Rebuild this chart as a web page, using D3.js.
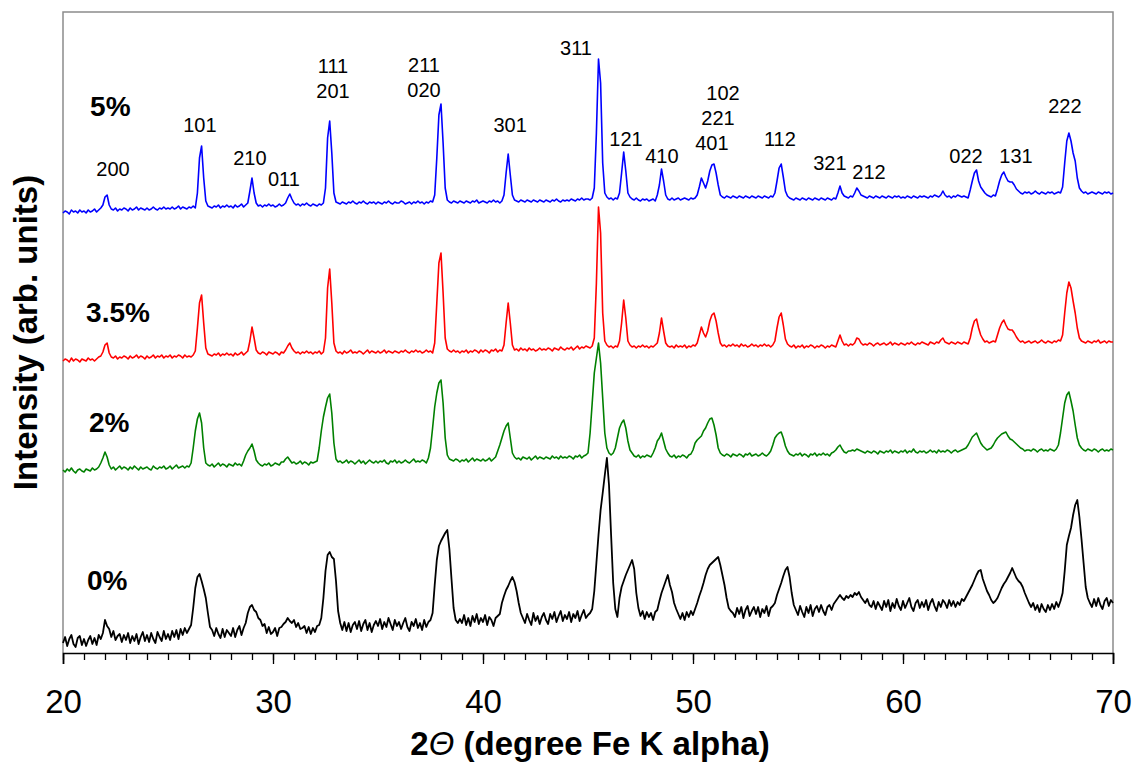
<!DOCTYPE html>
<html>
<head>
<meta charset="utf-8">
<script src="https://cdn.jsdelivr.net/npm/d3@7"></script>
<style>
  html, body { margin: 0; padding: 0; background: #fff; }
  svg { display: block; font-family: "Liberation Sans", Arial, Helvetica, sans-serif; }
</style>
</head>
<body>
<svg id="chart" width="1137" height="766"></svg>
<script>
// Measurement grid: 2-theta from 20 to 70 degrees in 0.1 degree steps
const twoTheta = d3.range(501).map(i => +(20 + i * 0.1).toFixed(1));

// Diffracted intensity (arb. units), one row per degree
const intensity0 = [
  10,16,7,14,18,9,6,15,17,8,
  14,7,13,17,9,15,8,18,14,20,
  33,27,24,16,22,13,17,19,11,18,
  13,20,10,17,12,19,9,16,21,12,
  18,11,20,14,10,21,16,12,22,14,
  19,13,22,16,23,14,24,18,25,20,
  24,28,45,65,76,79,72,64,55,40,
  26,23,17,25,19,15,24,16,23,20,
  17,25,16,23,27,18,25,30,40,46,
  48,43,41,35,33,27,29,20,26,19,
  21,25,17,25,26,29,31,35,32,30,
  33,26,30,24,25,27,20,26,19,25,
  21,27,28,35,55,82,98,101,96,94,
  72,42,30,23,31,22,30,21,28,31,
  24,32,22,29,33,23,30,21,28,32,
  27,34,24,31,26,35,29,23,33,27,
  31,24,30,35,26,22,31,27,34,25,
  30,23,33,26,31,33,40,68,93,107,
  112,116,120,123,104,74,45,33,30,34,
  30,38,28,35,27,37,31,39,29,35,
  31,38,28,36,33,27,35,37,39,50,
  57,63,67,72,76,71,62,50,40,35,
  30,39,33,28,40,32,37,29,36,40,
  33,29,39,34,41,31,37,42,32,38,
  34,41,31,39,35,42,32,38,43,35,
  38,40,44,62,90,118,143,160,178,195,
  168,118,70,44,36,55,66,72,78,83,
  88,93,84,60,45,37,42,34,41,36,
  40,33,41,43,52,60,66,72,78,68,
  61,50,44,39,34,40,33,41,36,42,
  38,44,50,57,63,70,78,84,88,90,
  92,94,96,88,78,68,55,45,42,40,
  36,45,39,46,35,43,47,37,42,46,
  39,46,36,44,40,47,37,45,47,50,
  58,64,70,77,83,86,76,60,48,43,
  38,47,41,36,46,40,48,37,44,47,
  41,48,42,38,46,48,43,49,52,55,
  58,55,53,57,55,58,56,60,58,61,
  56,53,50,54,48,46,52,44,51,47,
  43,52,46,53,42,50,45,54,47,43,
  52,45,50,55,46,42,50,53,45,51,
  46,53,43,50,54,47,42,51,46,53,
  50,45,53,47,52,46,51,48,54,52,
  56,60,64,68,73,78,82,83,74,68,
  62,58,53,50,52,55,60,65,69,72,
  76,80,85,80,75,72,70,66,60,55,
  50,46,50,43,48,41,49,44,41,48,
  43,49,44,51,46,52,60,82,108,117,
  125,138,148,153,136,114,90,66,55,50,
  46,54,47,55,48,44,52,55,47,53,
  50
];

const intensity2 = [
  23,21,24,22,25,22,20,23,24,22,
  21,24,23,22,25,23,24,26,30,35,
  41,36,28,24,26,23,25,27,24,26,
  25,23,26,24,27,25,23,26,24,25,
  26,24,23,27,25,24,26,25,27,24,
  25,27,24,26,28,25,26,27,25,27,
  26,30,45,62,74,80,70,45,30,28,
  27,29,26,28,30,27,29,28,26,29,
  28,27,30,28,29,27,32,38,42,45,
  49,42,33,30,28,27,29,28,30,27,
  28,30,29,28,31,31,34,36,33,30,
  31,29,30,32,29,31,30,28,31,30,
  31,32,45,62,76,86,95,99,80,50,
  34,31,32,30,31,33,30,32,31,29,
  31,33,30,32,29,31,33,31,30,32,
  30,32,31,33,30,29,32,31,33,30,
  32,30,31,33,31,30,32,34,31,32,
  31,33,32,30,35,45,65,86,100,110,
  113,90,55,38,34,33,32,34,33,31,
  33,32,34,31,33,35,32,34,33,32,
  34,32,33,35,32,34,36,42,48,55,
  62,67,70,55,40,36,34,35,33,36,
  35,34,36,33,35,37,34,36,35,34,
  36,35,34,37,35,36,34,37,35,36,
  35,37,36,34,37,36,38,35,37,38,
  40,60,90,120,135,150,130,95,60,45,
  40,38,40,45,55,65,70,73,65,52,
  43,40,37,36,38,35,37,36,38,37,
  36,40,45,52,55,60,52,44,40,37,
  36,38,35,37,36,38,37,35,38,39,
  43,50,53,55,57,62,65,70,74,75,
  68,58,45,40,38,37,39,38,36,39,
  38,37,39,38,36,39,38,40,37,38,
  39,37,38,40,38,37,39,42,48,55,
  58,60,61,55,47,42,39,38,37,39,
  38,40,37,39,38,36,39,38,40,37,
  39,38,40,38,39,37,40,41,43,46,
  48,44,41,40,42,42,43,42,44,43,
  42,41,40,42,41,40,42,41,39,42,
  41,40,42,41,43,40,42,41,40,42,
  41,43,40,42,41,44,41,40,42,41,
  42,40,41,43,41,42,40,43,41,42,
  41,43,42,40,42,43,41,42,43,44,
  45,48,52,56,58,60,55,50,47,45,
  43,44,45,48,52,55,57,59,60,61,
  57,54,53,51,49,47,45,44,42,43,
  43,42,44,43,41,43,44,42,43,42,
  44,43,42,44,48,60,75,90,98,101,
  92,82,68,55,48,45,43,42,44,43,
  42,44,43,41,43,44,42,43,42,44,
  43
];

const intensity35 = [
  22,24,23,21,25,22,24,23,21,24,
  23,22,25,23,24,22,24,26,27,31,
  38,40,30,26,25,27,24,26,25,27,
  26,24,27,25,26,28,25,27,26,24,
  27,25,26,28,25,27,26,28,25,27,
  26,28,25,27,26,28,27,25,28,26,
  27,26,28,32,55,80,88,60,35,29,
  28,27,29,28,30,27,29,28,30,28,
  29,27,30,28,29,31,28,30,32,42,
  56,45,33,30,29,31,30,28,31,30,
  29,31,30,28,31,30,33,37,40,35,
  32,30,31,29,31,30,32,30,31,29,
  31,30,32,29,31,45,95,114,80,40,
  32,30,31,29,32,30,31,33,30,31,
  30,32,31,29,31,33,30,32,31,30,
  32,30,31,33,30,32,31,30,32,31,
  30,32,31,33,31,30,32,31,33,31,
  32,30,31,33,31,32,30,40,80,120,
  130,90,45,34,32,31,33,31,32,30,
  32,31,33,30,32,31,33,32,30,33,
  31,33,32,30,33,32,34,31,33,32,
  38,60,80,60,38,33,34,32,35,33,
  34,32,35,33,34,32,33,35,33,34,
  33,35,34,32,35,34,33,36,34,33,
  35,34,36,33,35,37,34,36,35,37,
  36,35,37,45,100,176,150,70,42,38,
  36,37,35,37,36,42,60,83,65,42,
  38,36,37,35,37,36,38,36,37,35,
  37,36,38,40,50,65,52,40,37,36,
  37,35,38,36,37,36,38,35,37,36,
  38,37,40,48,56,50,46,52,62,68,
  70,62,50,40,37,38,36,38,37,39,
  37,38,36,39,37,38,36,37,39,37,
  38,36,38,37,39,37,38,36,38,42,
  55,66,70,58,44,39,37,36,38,35,
  37,36,38,35,37,36,38,37,35,37,
  36,38,37,35,37,36,38,37,36,42,
  48,42,38,39,37,39,38,40,45,44,
  40,38,39,38,40,39,37,39,40,38,
  39,40,38,39,41,38,40,39,38,40,
  39,38,40,39,41,39,38,40,39,41,
  40,39,38,41,40,39,41,40,43,45,
  41,40,39,41,40,39,41,40,39,41,
  40,39,45,55,62,64,55,48,44,41,
  42,40,41,42,41,48,55,60,63,58,
  54,53,53,50,46,43,41,42,40,41,
  42,40,41,42,40,41,43,41,40,42,
  41,40,42,41,43,42,48,70,90,101,
  95,82,70,55,45,42,41,40,42,41,
  40,42,41,43,40,41,42,40,42,41,
  41
];

const intensity5 = [
  20,22,21,19,23,21,22,20,23,21,
  22,20,23,21,22,24,21,23,25,28,
  36,38,28,24,23,25,22,24,23,25,
  24,22,25,23,24,26,23,25,24,23,
  25,23,24,26,24,23,25,24,26,24,
  25,24,26,24,25,27,24,26,25,24,
  26,25,27,25,40,75,87,55,32,27,
  26,25,27,26,28,25,27,26,28,26,
  27,25,28,26,27,29,26,28,30,42,
  55,40,30,27,28,26,28,27,29,27,
  28,26,27,29,27,28,30,35,39,34,
  30,28,29,27,29,28,30,28,27,29,
  28,27,29,28,30,45,95,112,80,40,
  31,30,29,31,30,29,31,30,32,30,
  29,31,30,32,30,29,31,30,31,29,
  31,30,29,31,30,32,30,29,31,30,
  30,32,31,29,30,31,29,31,30,32,
  30,31,29,31,30,32,31,38,75,118,
  129,90,45,33,31,30,32,31,30,32,
  31,30,32,31,30,32,31,33,30,31,
  32,31,30,32,31,33,31,32,30,32,
  38,60,79,58,38,33,32,31,33,32,
  31,33,32,31,33,32,31,33,32,31,
  33,32,31,33,32,34,32,31,33,32,
  33,32,34,33,32,34,33,35,33,34,
  34,33,35,45,100,174,150,70,40,36,
  34,35,33,35,34,40,60,81,62,40,
  36,34,33,35,33,32,34,33,34,32,
  33,34,32,38,48,64,52,38,34,33,
  35,33,34,35,33,34,35,34,33,35,
  34,35,38,46,55,50,45,52,62,68,
  69,60,48,38,36,35,37,36,35,37,
  36,35,37,36,35,37,36,35,37,36,
  35,37,36,35,37,36,35,37,36,40,
  52,65,69,56,42,37,35,34,33,35,
  34,33,35,34,33,35,34,33,35,34,
  33,35,34,33,35,34,33,35,34,40,
  47,40,37,36,35,37,36,40,45,42,
  38,37,36,35,37,36,35,37,36,35,
  37,36,35,37,36,35,37,36,37,35,
  36,35,37,36,35,37,36,35,37,36,
  37,36,35,37,36,38,37,36,38,42,
  38,36,37,35,37,36,38,37,36,37,
  36,35,43,52,60,63,52,46,43,40,
  38,37,36,38,37,44,52,58,61,56,
  52,51,51,48,44,42,40,39,41,40,
  41,39,40,42,40,39,41,40,39,41,
  40,41,39,40,41,40,46,70,92,100,
  92,80,72,55,45,42,40,41,39,40,
  41,40,39,41,40,39,41,40,41,39,
  40
];

// Sample names and the vertical shift applied to each pattern
const sampleNames = ["0%", "2%", "3.5%", "5%"];
const stackOffsets = [0, 160, 270, 420];
const sampleColors = ["#000000", "#008000", "#ff0000", "#0000ff"];
const sampleIntensities = [intensity0, intensity2, intensity35, intensity5];
// Where each sample name sits (2-theta of left edge, stacked intensity of baseline)
const sampleLabelTheta = [21.14, 21.24, 21.1, 21.29];
const sampleLabelLevel = [63, 221, 331, 537];

// Miller indices of the reflections, with the 2-theta and stacked level of each label
const reflectionText  = ["200","101","210","011","111","201","211","020","301","311","121","410","102","221","401","112","321","212","022","131","222"];
const reflectionTheta = [22.38,26.52,28.9,30.52,32.86,32.86,37.19,37.19,41.29,44.43,46.81,48.52,51.43,51.19,50.9,54.14,56.52,58.38,63.0,65.38,67.71];
const reflectionLevel = [477,521,488,467,580,555,581,556,521,598,507,490,553,528,503,507,483,474,490,490,540];

// Axis ticks
const majorTicks = [20, 30, 40, 50, 60, 70];
const minorTicks = d3.range(20, 71, 1);

const svg = d3.select("#chart");
const margin = { left: 63, right: 24, top: 12, bottom: 113 };
const W = 1137, H = 766;

const x = d3.scaleLinear().domain([20, 70]).range([margin.left, W - margin.right]);
const y = d3.scaleLinear().domain([0, 641]).range([H - margin.bottom, margin.top]);

// Frame (left, top, right) in grey
svg.append("path")
  .attr("d", `M${x(20)},${y(0)} V${y(641)} H${x(70)} V${y(0)}`)
  .attr("fill", "none")
  .attr("stroke", "#8c8c8c")
  .attr("stroke-width", 1.5);

// Patterns
const line = d3.line()
  .x(d => x(d[0]))
  .y(d => y(d[1]));

sampleIntensities.forEach((vals, i) => {
  const pts = twoTheta.map((t, k) => [t, vals[k] + stackOffsets[i]]);
  svg.append("path")
    .datum(pts)
    .attr("d", line)
    .attr("fill", "none")
    .attr("stroke", sampleColors[i])
    .attr("stroke-width", i === 0 ? 1.8 : 1.6)
    .attr("stroke-linejoin", "round");
});

// Bottom axis: minor ticks, then major ticks with labels
const gAxis = svg.append("g").attr("transform", `translate(0,${y(0)})`);
gAxis.append("g")
  .call(d3.axisBottom(x).tickValues(minorTicks).tickSize(7).tickFormat(""))
  .call(g => g.select(".domain").remove())
  .call(g => g.selectAll("line").attr("stroke", "#000").attr("stroke-width", 1.3));
gAxis.append("g")
  .call(d3.axisBottom(x).tickValues(majorTicks).tickSize(11).tickPadding(26).tickFormat(d3.format("d")))
  .call(g => g.select(".domain").attr("stroke", "#000").attr("stroke-width", 1.6))
  .call(g => g.selectAll("line").attr("stroke", "#000").attr("stroke-width", 1.3))
  .call(g => g.selectAll("text")
    .attr("fill", "#000")
    .style("font-family", "'Liberation Sans', Arial, sans-serif")
    .style("font-size", "33px"));

// Axis titles
const xt = svg.append("text")
  .attr("x", 590)
  .attr("y", 755)
  .attr("text-anchor", "middle")
  .style("font-size", "33px")
  .style("font-weight", "bold")
  .attr("fill", "#000");
xt.append("tspan").text("2");
xt.append("tspan").text("\u0398").style("font-style", "italic").style("font-weight", "normal");
xt.append("tspan").text(" (degree Fe K alpha)");

svg.append("text")
  .attr("transform", `translate(37,${(y(0) + y(641)) / 2}) rotate(-90)`)
  .attr("text-anchor", "middle")
  .style("font-size", "33px")
  .style("font-weight", "bold")
  .attr("fill", "#000")
  .text("Intensity (arb. units)");

// Sample names
svg.append("g").selectAll("text")
  .data(sampleNames)
  .join("text")
  .attr("x", (d, i) => x(sampleLabelTheta[i]))
  .attr("y", (d, i) => y(sampleLabelLevel[i]))
  .style("font-size", "28px")
  .style("font-weight", "bold")
  .attr("fill", "#000")
  .text(d => d);

// Reflection indices
svg.append("g").selectAll("text")
  .data(reflectionText)
  .join("text")
  .attr("x", (d, i) => x(reflectionTheta[i]))
  .attr("y", (d, i) => y(reflectionLevel[i]))
  .attr("text-anchor", "middle")
  .style("font-size", "20px")
  .attr("fill", "#000")
  .text(d => d);
</script>
</body>
</html>
